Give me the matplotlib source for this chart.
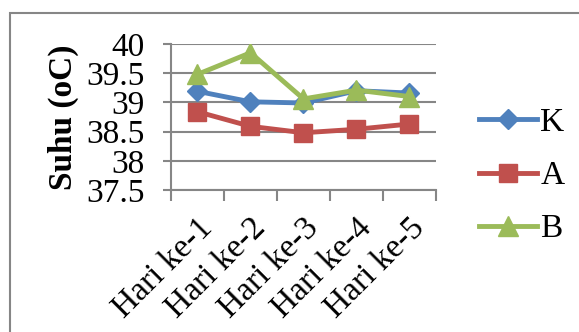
import matplotlib.pyplot as plt
from matplotlib.patches import Rectangle

# Daily body temperature for three groups
days = ["Hari ke-1", "Hari ke-2", "Hari ke-3", "Hari ke-4", "Hari ke-5"]
suhu_k = [39.19, 39.01, 38.99, 39.20, 39.16]
suhu_a = [38.84, 38.59, 38.48, 38.54, 38.63]
suhu_b = [39.48, 39.85, 39.06, 39.21, 39.10]
yticks = [37.5, 38, 38.5, 39, 39.5, 40]
ytick_labels = ["37.5", "38", "38.5", "39", "39.5", "40"]

plt.rcParams['font.family'] = ['Liberation Serif', 'DejaVu Serif']

fig = plt.figure(figsize=(5.79, 3.32), dpi=100)
ax = fig.add_axes([0.2953, 0.4277, 0.4577, 0.4398])

grey = "#868686"
x = range(len(days))
ax.plot(x, suhu_k, color="#4F81BD", lw=3.5, marker="D", ms=10, label="K")
ax.plot(x, suhu_a, color="#C0504D", lw=3.5, marker="s", ms=13, label="A")
ax.plot(x, suhu_b, color="#9BBB59", lw=3.5, marker="^", ms=14, label="B")

ax.set_xlim(-0.5, len(days) - 0.5)
ax.set_ylim(37.5, 40)
ax.set_yticks(yticks)
ax.set_yticklabels(ytick_labels, fontsize=24)
ax.yaxis.grid(True, color=grey, lw=1.5)
ax.set_axisbelow(True)

ax.set_xticks(list(x))
ax.set_xticklabels(days, fontsize=24, rotation=45, ha="right", va="top",
                   rotation_mode="anchor")
ax.set_xticks([i - 0.5 for i in range(len(days) + 1)], minor=True)
ax.tick_params(axis="x", which="major", length=0, pad=16)
ax.tick_params(axis="x", which="minor", length=8, width=1.5, color=grey)
ax.tick_params(axis="y", length=6, width=1.5, color=grey, pad=13)

for side in ["top", "right"]:
    ax.spines[side].set_visible(False)
for side in ["left", "bottom"]:
    ax.spines[side].set_color(grey)
    ax.spines[side].set_linewidth(1.5)

ax.set_ylabel("Suhu (oC)", fontsize=24, fontweight="bold", labelpad=5)

fig.legend(loc="center left", bbox_to_anchor=(0.798, 0.47), frameon=False,
           fontsize=24, handlelength=1.75, handletextpad=0.1, labelspacing=0.68,
           borderpad=0)

# chart area frame
fig.patches.append(Rectangle((10 / 579, -0.2), 1.1, 1.2 - 13 / 332,
                             transform=fig.transFigure, fill=False,
                             edgecolor=grey, lw=1.5))

fig.savefig("out.png", dpi=100)
